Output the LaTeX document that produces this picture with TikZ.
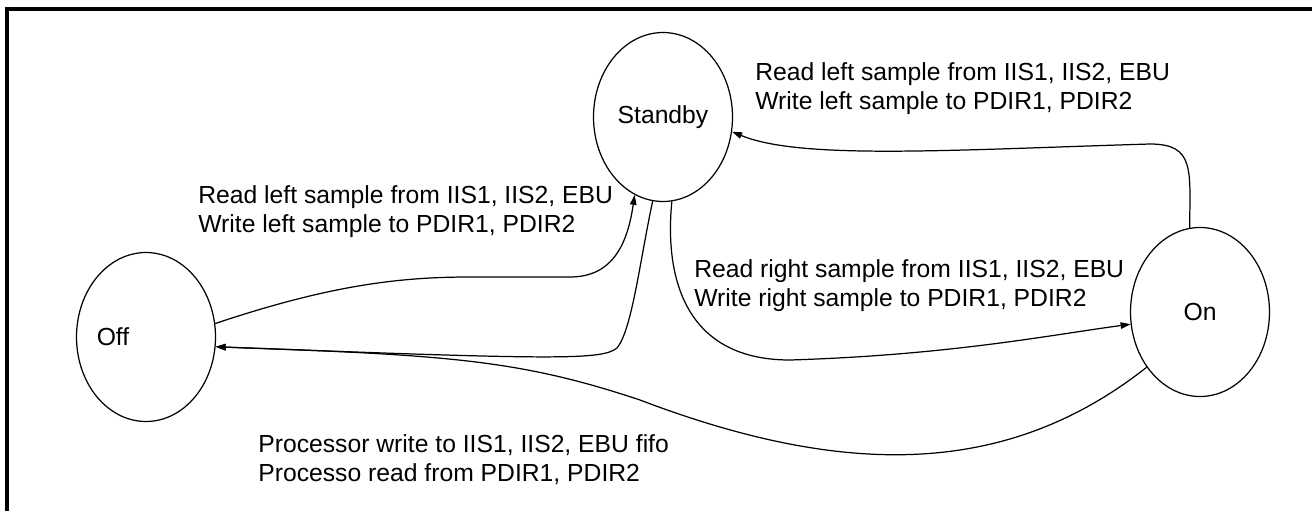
\documentclass[tikz,border=0pt]{standalone}
\usepackage{fontspec}
\setmainfont{Liberation Sans}
\usetikzlibrary{arrows.meta, positioning, shapes.geometric}

\begin{document}
\begin{tikzpicture}[x=0.02cm, y=-0.02cm,
        state/.style = {draw, ellipse, line width=0.7pt, minimum width=2.78cm, minimum height=3.38cm, inner sep=0pt},
        lbl/.style = {anchor=west, align=left, inner sep=0pt},
        every node/.style = {font=\fontsize{14.06pt}{16.4pt}\selectfont},
        >={Triangle[length=0.2cm, width=0.13cm]}]
        \useasboundingbox (0,0) rectangle (1312,511);
        % frame
        \draw[line width=2pt] (7,511) -- (7,9) -- (1312,9);
        % states
        \node[state, label={[xshift=-0.66cm]center:Off}] (off) at (146,337) {};
        \node[state] (standby) at (663,117) {Standby};
        \node[state] (on) at (1200,312) {On};
        % transitions
        \draw[->, line width=0.7pt] (off.11) .. controls (330,285) and (400,277) .. (470,277) -- (570,277) .. controls (615,277) and (628,240) .. (standby.250);
        \draw[->, line width=0.7pt] (standby.263) .. controls (640,260) and (632,330) .. (617,348) .. controls (602,360) and (560,360) .. (off.-8);
        \draw[->, line width=0.7pt] (standby.276) .. controls (665,270) and (680,360) .. (790,360) .. controls (950,355) and (1050,335) .. (on.190);
        \draw[->, line width=0.7pt] (on.97) .. controls (1190,170) and (1195,144) .. (1150,144) .. controls (950,150) and (800,160) .. (standby.-12);
        \draw[->, line width=0.7pt] (on.226) .. controls (1010,475) and (850,480) .. (640,400) .. controls (520,360) and (450,355) .. (off.-8);
        % labels
        \node[lbl] (lefttop) at (755,89) {Read left sample from IIS1, IIS2, EBU\\Write left sample to PDIR1, PDIR2};
        \node[lbl] (leftlow) at (198,212) {Read left sample from IIS1, IIS2, EBU\\Write left sample to PDIR1, PDIR2};
        \node[lbl] (right) at (694,286) {Read right sample from IIS1, IIS2, EBU\\Write right sample to PDIR1, PDIR2};
        \node[lbl] (proc) at (258,460) {Processor write to IIS1, IIS2, EBU fifo\\Processo read from PDIR1, PDIR2};
\end{tikzpicture}
\end{document}
